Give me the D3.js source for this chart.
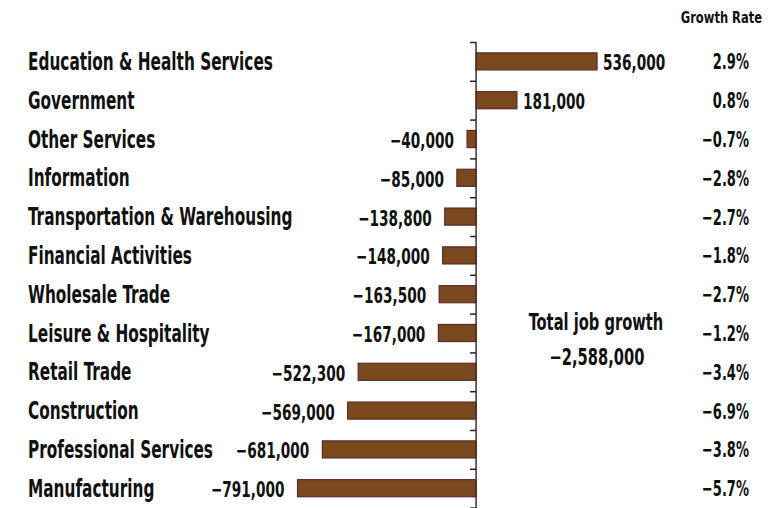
<!DOCTYPE html>
<html>
<head>
<meta charset="utf-8">
<script src="https://cdn.jsdelivr.net/npm/d3@7/dist/d3.min.js"></script>
<style>
  html, body { margin: 0; padding: 0; background: #fff; }
  svg { display: block; }
  text { font-family: "DejaVu Sans Condensed", "Liberation Sans Narrow", sans-serif; font-weight: bold; fill: #111; }
</style>
</head>
<body>
<svg id="chart" width="778" height="508"></svg>
<script>
// Job change by sector
const categories = [
  "Education & Health Services", "Government", "Other Services", "Information",
  "Transportation & Warehousing", "Financial Activities", "Wholesale Trade",
  "Leisure & Hospitality", "Retail Trade", "Construction",
  "Professional Services", "Manufacturing"
];
const jobChange = [536000, 181000, -40000, -85000, -138800, -148000, -163500,
  -167000, -522300, -569000, -681000, -791000];
const growthRate = [2.9, 0.8, -0.7, -2.8, -2.7, -1.8, -2.7, -1.2, -3.4, -6.9, -3.8, -5.7];
const totalGrowth = -2588000;
const rateHeader = "Growth Rate";
const totalLabel = "Total job growth";

const W = 778, H = 508;
const plotTop = 42, plotBottom = 507.6;

const svg = d3.select("#chart");

const x = d3.scaleLinear().domain([-800000, 600000]).range([295.5, 611.5]);
const y = d3.scaleBand().domain(categories).range([plotTop, plotBottom])
  .paddingInner(0.56).paddingOuter(0.28);

const fmt = d3.format(",");
const fmtRate = v => d3.format(".1f")(v) + "%";

// tall, narrow lettering: squeeze the glyphs horizontally
function condensed(sel, px, py, size, squeeze, anchor, str) {
  return sel.append("text")
    .attr("transform", `translate(${px},${py}) scale(${squeeze},1)`)
    .attr("font-size", size)
    .attr("text-anchor", anchor)
    .attr("dy", "0.36em")
    .text(str);
}

// bars
svg.append("g").selectAll("rect")
  .data(jobChange)
  .join("rect")
  .attr("x", d => x(Math.min(0, d)))
  .attr("width", d => Math.abs(x(d) - x(0)))
  .attr("y", (d, i) => y(categories[i]))
  .attr("height", y.bandwidth())
  .attr("fill", "#7a4a1e")
  .attr("stroke", "#5c2a2a")
  .attr("stroke-width", 1.2);

// axis with ticks at row boundaries
const yIdx = d3.scaleLinear().domain([0, categories.length]).range([plotTop, plotBottom]);
const axis = svg.append("g")
  .attr("transform", `translate(${x(0)},0)`)
  .call(d3.axisLeft(yIdx).tickValues(d3.range(0, categories.length + 1))
    .tickSize(6).tickSizeOuter(0).tickFormat(""));
axis.select(".domain").attr("stroke", "#4a2a2a").attr("stroke-width", 1.5)
  .attr("d", `M0,${plotTop}V${H}`);
axis.selectAll(".tick line").attr("stroke", "#222").attr("stroke-width", 1.5);

const labels = svg.append("g");
categories.forEach((c, i) => {
  const cy = y(c) + y.bandwidth() / 2;
  condensed(labels, 28, cy, 24, 0.71, "start", c);
  const v = jobChange[i];
  if (v >= 0) condensed(labels, x(v) + 6, cy + 1, 22, 0.69, "start", fmt(v));
  else condensed(labels, x(v) - 13, cy + 1, 22, 0.69, "end", fmt(v));
  condensed(labels, 749, cy, 22, 0.66, "end", fmtRate(growthRate[i]));
});

condensed(svg, 762, 17, 16, 0.8, "end", rateHeader);
condensed(svg, 596, 322, 23, 0.71, "middle", totalLabel);
condensed(svg, 597, 357, 23, 0.71, "middle", fmt(totalGrowth));
</script>
</body>
</html>
